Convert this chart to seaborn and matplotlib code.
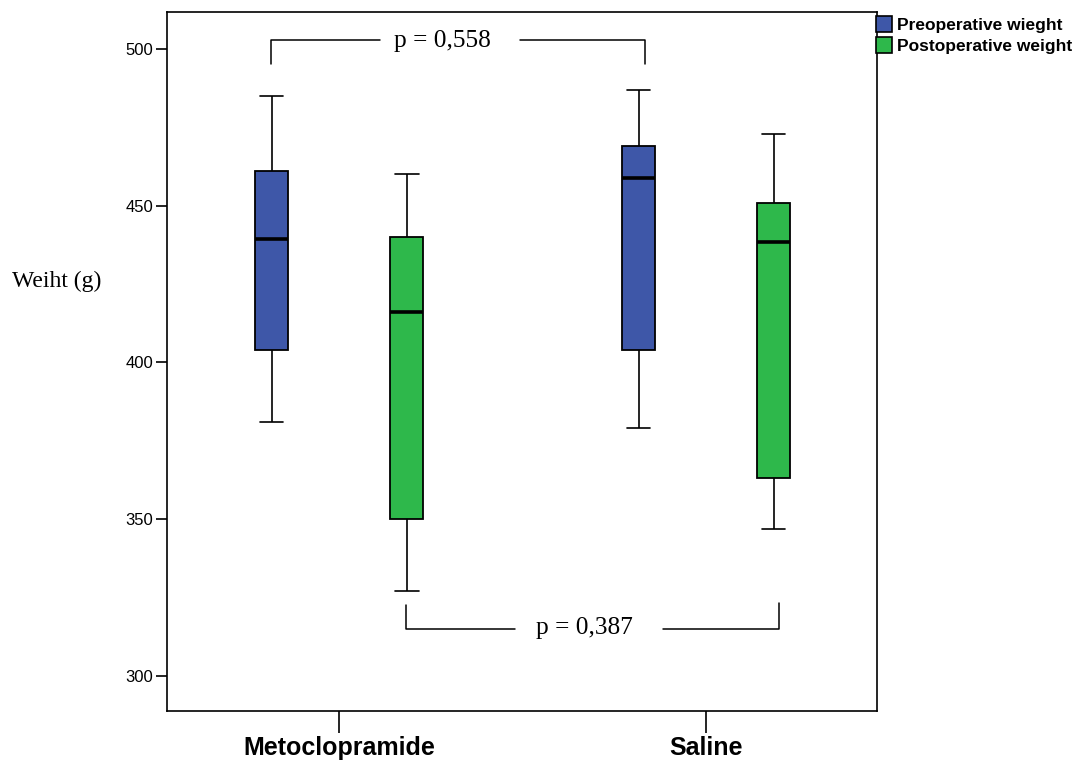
import matplotlib
matplotlib.use("Agg")
import matplotlib.pyplot as plt
import matplotlib.patches as mpatches
import numpy as np
import pandas as pd
import seaborn as sns

# five-number summaries: low whisker, Q1, median, Q3, high whisker
groups = ["Metoclopramide", "Saline"]
phases = ["Preoperative wieght", "Postoperative weight"]
meto_pre = [381, 404, 439.5, 461, 485]
meto_post = [327, 350, 416, 440, 460]
saline_pre = [379, 404, 459, 469, 487]
saline_post = [347, 363, 438.5, 451, 473]
colors = ["#3E57A8", "#2EB84B"]
p_top = "p = 0,558"
p_bottom = "p = 0,387"

rows = []
for g, vals in [("Metoclopramide", meto_pre), ("Saline", saline_pre)]:
    rows += [(g, phases[0], v) for v in vals]
for g, vals in [("Metoclopramide", meto_post), ("Saline", saline_post)]:
    rows += [(g, phases[1], v) for v in vals]
df = pd.DataFrame(rows, columns=["group", "phase", "weight"])

sns.set_style("white")
plt.rcParams["text.color"] = "black"
plt.rcParams["xtick.color"] = "black"
plt.rcParams["ytick.color"] = "black"
plt.rcParams["axes.labelcolor"] = "black"

fig = plt.figure(figsize=(10.9, 7.6), dpi=100)
ax = fig.add_axes([0.1532, 0.0645, 0.6514, 0.9197])

sns.boxplot(data=df, x="group", y="weight", hue="phase", order=groups,
            hue_order=phases, palette=colors, whis=np.inf, width=0.736, gap=0.75,
            saturation=1, linewidth=1.3, linecolor="black",
            medianprops={"linewidth": 2.6, "color": "black"},
            whiskerprops={"linewidth": 1.2}, capprops={"linewidth": 1.2},
            capwidths=0.065, legend=False, ax=ax)

ax.set_xlim(-0.469, 1.466)
ax.set_ylim(288.8, 511.8)
ax.set_yticks([300, 350, 400, 450, 500])
for s in ax.spines.values():
    s.set_visible(True)
    s.set_color("black")
    s.set_linewidth(1.2)
ax.tick_params(axis="y", direction="out", length=8, width=1.2, labelsize=12,
               left=True, pad=2, colors="black")
ax.tick_params(axis="x", direction="out", length=16, width=1.2, labelsize=18,
               bottom=True, pad=2, colors="black")
for lab in ax.get_yticklabels():
    lab.set_family("Liberation Sans")
for lab in ax.get_xticklabels():
    lab.set_family("Liberation Sans")
    lab.set_fontweight("bold")
ax.set_xlabel("")
ax.set_ylabel("Weiht (g)", rotation=0, family="Liberation Serif", fontsize=17,
              va="center", ha="center", color="black")
ax.yaxis.set_label_coords(-0.156, 0.614)

# significance brackets (pre vs pre on top, post vs post below)
ax.plot([-0.185, -0.185, 0.112], [495.2, 502.9, 502.9], color="black", lw=1.1)
ax.plot([0.493, 0.834, 0.834], [502.9, 502.9, 495.2], color="black", lw=1.1)
ax.text(0.283, 502.6, p_top, family="Liberation Serif", fontsize=18.3,
        ha="center", va="center", color="black")
ax.plot([0.1826, 0.1826, 0.4796], [322.6, 315.0, 315.0], color="black", lw=1.1)
ax.plot([0.883, 1.199, 1.199], [315.0, 315.0, 323.2], color="black", lw=1.1)
ax.text(0.670, 315.3, p_bottom, family="Liberation Serif", fontsize=18.3,
        ha="center", va="center", color="black")

handles = [mpatches.Patch(facecolor=c, edgecolor="black", linewidth=1.2, label=l)
           for c, l in zip(colors, phases)]
leg = fig.legend(handles=handles, loc="upper left", bbox_to_anchor=(0.797, 0.988),
                 frameon=False, handlelength=0.95, handleheight=1.05,
                 handletextpad=0.3, labelspacing=0.22, borderaxespad=0,
                 prop={"family": "Liberation Sans", "weight": "bold", "size": 12.5})
for t in leg.get_texts():
    t.set_color("black")

fig.savefig("out.png", dpi=100)
